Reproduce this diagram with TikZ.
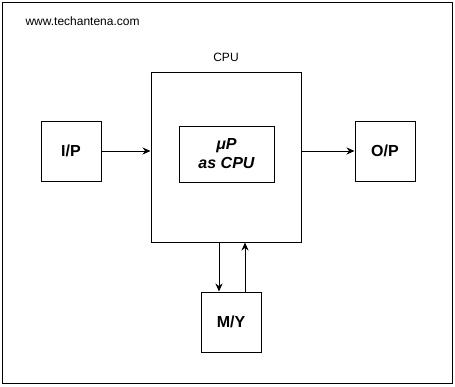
\documentclass[tikz,border=0pt]{standalone}
\usepackage{fontspec}
\setmainfont{Liberation Sans}
\usetikzlibrary{arrows.meta,calc,positioning}

\tikzset{
  blockbox/.style={draw,line width=1pt,minimum width=60pt,minimum height=60pt,inner sep=0pt,font=\fontsize{16}{18}\selectfont\bfseries},
  link/.style={->,line width=1pt}
}

\begin{document}
\begin{tikzpicture}[x=1pt,y=-1pt,>={Stealth[length=8pt,width=7pt]},every node/.style={font=\fontsize{12}{14}\selectfont}]
  \useasboundingbox (0,0) rectangle (455,386);
  \draw[line width=1pt] (2,2) rectangle (452,383);
  \node[anchor=west] (site) at (22,21) {www.techantena.com};

  % processor block
  \node[draw,line width=1pt,minimum width=150pt,minimum height=170pt,inner sep=0pt] (cpu) at (226,157) {};
  \node[above=6pt of cpu] (cpulbl) {CPU};
  \node[draw,line width=1pt,minimum width=95pt,minimum height=56pt,inner sep=0pt,align=center,
        font=\fontsize{16}{19}\selectfont\bfseries\itshape] (up) at (226.5,154) {μP\\as CPU};

  \node[blockbox] (ip) at (71,151) {I/P};
  \node[blockbox] (op) at (385,151) {O/P};
  \node[blockbox] (mem) at (231,322) {M/Y};

  \coordinate (rdin) at ($(mem.north)+(-12,0)$);
  \coordinate (wrout) at ($(mem.north)+(14,0)$);
  \draw[link] (ip.east) -- (cpu.west |- ip.east);
  \draw[link] (cpu.east |- op.west) -- (op.west);
  \draw[link] (cpu.south -| rdin) -- (rdin);
  \draw[link] (wrout) -- (cpu.south -| wrout);
\end{tikzpicture}
\end{document}
